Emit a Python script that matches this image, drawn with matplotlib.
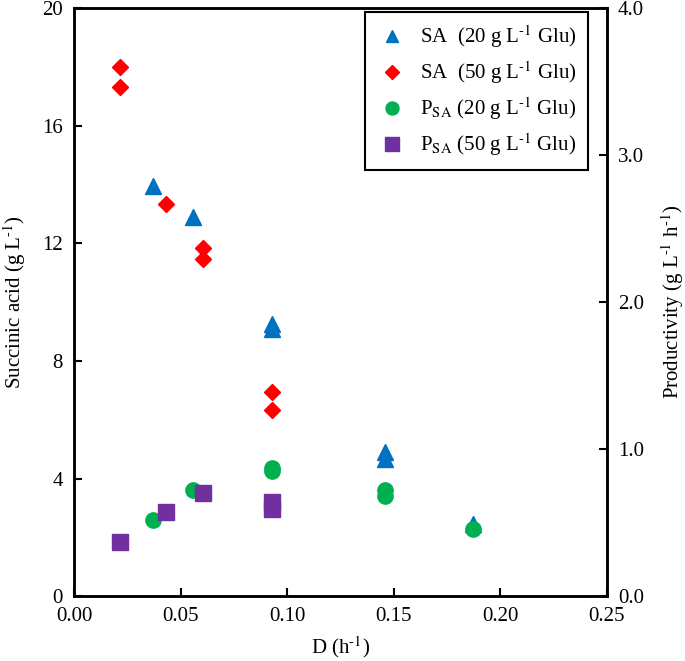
import matplotlib
matplotlib.use("Agg")
import matplotlib.pyplot as plt

plt.rcParams["font.family"] = ["Liberation Serif", "DejaVu Serif"]
plt.rcParams["mathtext.fontset"] = "stix"
plt.rcParams["font.size"] = 15

# succinic acid titre (left axis, g/L)
sa20_D = [0.037, 0.056, 0.093, 0.093, 0.146, 0.146, 0.187]
sa20_y = [13.95, 12.9, 9.25, 9.1, 4.9, 4.65, 2.45]
sa50_D = [0.0215, 0.0215, 0.043, 0.0605, 0.0605, 0.093, 0.093]
sa50_y = [18.0, 17.3, 13.35, 11.85, 11.45, 6.95, 6.33]

# productivity (right axis, g/L/h)
p20_D = [0.037, 0.056, 0.093, 0.093, 0.146, 0.146, 0.187]
p20_y = [0.517, 0.72, 0.87, 0.85, 0.725, 0.68, 0.46]
p50_D = [0.0215, 0.043, 0.0605, 0.093, 0.093]
p50_y = [0.37, 0.57, 0.70, 0.64, 0.59]

blue = "#0070C0"
red = "#FF0000"
green = "#00B050"
purple = "#7030A0"

sup = r"$^{\text{-1}}$"

fig = plt.figure(figsize=(6.85, 6.61), dpi=100)
ax = fig.add_axes([0.108, 0.098, 0.778, 0.89])
ax2 = ax.twinx()

h1, = ax.plot(sa20_D, sa20_y, "^", color=blue, ms=11, ls="none", label="SA  (20 g L" + sup + " Glu)")
h2, = ax.plot(sa50_D, sa50_y, "D", color=red, ms=8.5, ls="none", label="SA  (50 g L" + sup + " Glu)")
h3, = ax2.plot(p20_D, p20_y, "o", color=green, ms=11, ls="none", label=r"P$_{\rm SA}$ (20 g L" + sup + " Glu)")
h4, = ax2.plot(p50_D, p50_y, "s", color=purple, ms=12, ls="none", label=r"P$_{\rm SA}$ (50 g L" + sup + " Glu)")

ax.set_xlim(0, 0.25)
ax.set_ylim(0, 20)
ax2.set_ylim(0, 4.0)
ax.set_xticks([0, 0.05, 0.10, 0.15, 0.20, 0.25])
ax.set_xticklabels(["0.00", "0.05", "0.10", "0.15", "0.20", "0.25"])
ax.set_yticks([0, 4, 8, 12, 16, 20])
ax2.set_yticks([0, 1, 2, 3, 4])
ax2.set_yticklabels(["0.0", "1.0", "2.0", "3.0", "4.0"])

for a in (ax, ax2):
    a.tick_params(direction="in", length=6, width=1.5)
    for s in a.spines.values():
        s.set_linewidth(1.8)
ax.tick_params(axis="x", pad=8)
ax.tick_params(axis="y", pad=8)
ax2.tick_params(axis="y", pad=8)

ax.set_xlabel("D (h" + sup + ")", labelpad=6)
ax.set_ylabel("Succinic acid (g L" + sup + ")", labelpad=10)
ax2.set_ylabel("Productivity (g L" + sup + " h" + sup + ")", labelpad=11)

leg = ax2.legend(handles=[h1, h2, h3, h4], loc="upper right",
                 bbox_to_anchor=(588 / 685, 1 - 12 / 661), bbox_transform=fig.transFigure,
                 borderaxespad=0, fancybox=False,
                 edgecolor="black", framealpha=1, handletextpad=0.6,
                 borderpad=0.55, labelspacing=0.45, handlelength=1.5,
                 markerscale=0.85)
leg.get_frame().set_linewidth(1.5)

plt.savefig("out.png", dpi=100)
